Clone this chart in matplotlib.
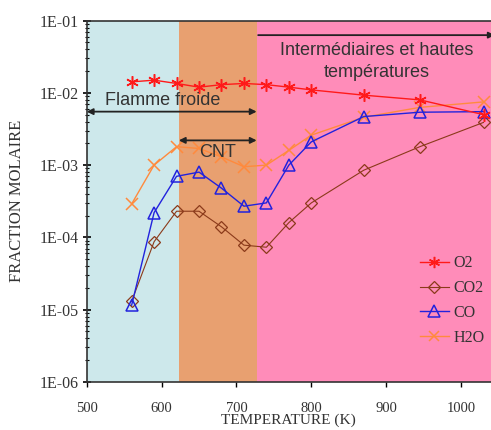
import numpy as np
import matplotlib
matplotlib.use("Agg")
import matplotlib.pyplot as plt
from matplotlib.ticker import FixedLocator, LogLocator, NullFormatter

# temperatures (K)
temp = [560, 590, 620, 650, 680, 710, 740, 770, 800, 870, 945, 1030]

# mole fractions
o2 = [1.42e-2, 1.5e-2, 1.35e-2, 1.2e-2, 1.3e-2, 1.35e-2, 1.3e-2, 1.2e-2, 1.1e-2, 9.3e-3, 8.0e-3, 5.0e-3]
co2 = [1.3e-5, 8.7e-5, 2.3e-4, 2.3e-4, 1.4e-4, 7.8e-5, 7.3e-5, 1.6e-4, 3.0e-4, 8.5e-4, 1.8e-3, 3.9e-3]
co = [1.15e-5, 2.2e-4, 7.0e-4, 8.0e-4, 4.8e-4, 2.7e-4, 3.0e-4, 1.0e-3, 2.1e-3, 4.7e-3, 5.4e-3, 5.5e-3]
h2o = [2.9e-4, 1.0e-3, 1.8e-3, 1.7e-3, 1.3e-3, 9.5e-4, 1.0e-3, 1.6e-3, 2.6e-3, 4.6e-3, 6.3e-3, 7.5e-3]

# zones (K)
zone_edges = [500, 623, 727, 1040]
zone_colors = ["#cde8eb", "#e8a070", "#ff8cb9"]

xticks = [500, 600, 700, 800, 900, 1000]
yticks = [1e-6, 1e-5, 1e-4, 1e-3, 1e-2, 1e-1]
ytick_labels = ["1E-06", "1E-05", "1E-04", "1E-03", "1E-02", "1E-01"]

fig = plt.figure(figsize=(4.91, 4.30), dpi=100)
ax = fig.add_axes([0.1766, 0.112, 0.8234, 0.84])

for i in range(3):
    ax.axvspan(zone_edges[i], zone_edges[i + 1], color=zone_colors[i], lw=0, zorder=0)

ax.plot(temp, o2, color="#ff1a1a", marker=(6, 2, 0), ms=9, mew=1.1, lw=1, label="O2", zorder=5)
ax.plot(temp, co2, color="#8b3a1a", marker="D", mfc="none", ms=6.5, mew=0.9, lw=0.8, label="CO2", zorder=4)
ax.plot(temp, co, color="#2222dd", marker="^", mfc="none", ms=9, mew=1.1, lw=1, label="CO", zorder=4)
ax.plot(temp, h2o, color="#ff8a3d", marker="x", ms=8, mew=1.1, lw=1, label="H2O", zorder=3)

ax.set_yscale("log")
ax.set_xlim(500, 1040)
ax.set_ylim(1e-6, 1e-1)

# annotation arrows
arrow = dict(arrowstyle="<|-|>", color="#222222", lw=1.3, mutation_scale=9, shrinkA=0, shrinkB=0)
ax.annotate("", xy=(500, 5.5e-3), xytext=(727, 5.5e-3), arrowprops=arrow, zorder=6)
ax.annotate("", xy=(623, 2.2e-3), xytext=(727, 2.2e-3), arrowprops=arrow, zorder=6)
ax.annotate("", xy=(729, 6.3e-2), xytext=(1045, 6.3e-2),
            arrowprops=dict(arrowstyle="<|-", color="#222222", lw=1.3, mutation_scale=9,
                            shrinkA=0, shrinkB=0), zorder=6)

tfont = dict(family="Liberation Sans", fontsize=13, color="#333333", zorder=7)
ax.text(602, 7.8e-3, "Flamme froide", ha="center", va="center", **tfont)
ax.text(675, 1.5e-3, "CNT", ha="center", va="center", **tfont)
ax.text(887, 3.9e-2, "Intermédiaires et hautes", ha="center", va="center", **tfont)
ax.text(887, 1.9e-2, "températures", ha="center", va="center", **tfont)

serif = "Liberation Serif"
ax.yaxis.set_major_locator(FixedLocator(yticks))
ax.set_yticklabels(ytick_labels, family=serif, fontsize=11.5, color="#333333")
ax.yaxis.set_minor_locator(LogLocator(base=10, subs=np.arange(2, 10), numticks=20))
ax.yaxis.set_minor_formatter(NullFormatter())
ax.set_xticks(xticks)
ax.set_xticklabels([str(t) for t in xticks], family=serif, fontsize=10.5, color="#333333")

ax.tick_params(axis="y", which="major", direction="inout", length=6, width=1.2, pad=3)
ax.tick_params(axis="y", which="minor", direction="inout", length=3, width=0.8)
ax.tick_params(axis="x", which="major", direction="out", length=3.6, width=1, pad=11)

for s in ["left", "bottom", "top"]:
    ax.spines[s].set_color("#333333")
    ax.spines[s].set_linewidth(1.2)
ax.spines["right"].set_visible(False)

ax.set_xlabel("TEMPERATURE (K)", family=serif, fontsize=11, color="#333333", labelpad=-1)
ax.set_ylabel("FRACTION MOLAIRE", family=serif, fontsize=12, color="#333333", labelpad=10)

leg = ax.legend(loc="lower right", bbox_to_anchor=(1.02, 0.06), frameon=False,
                prop=dict(family=serif, size=11.5), handlelength=1.8, handletextpad=0.3,
                labelspacing=0.55, markerscale=0.9)
for t in leg.get_texts():
    t.set_color("#333333")

fig.savefig("out.png", dpi=100)
